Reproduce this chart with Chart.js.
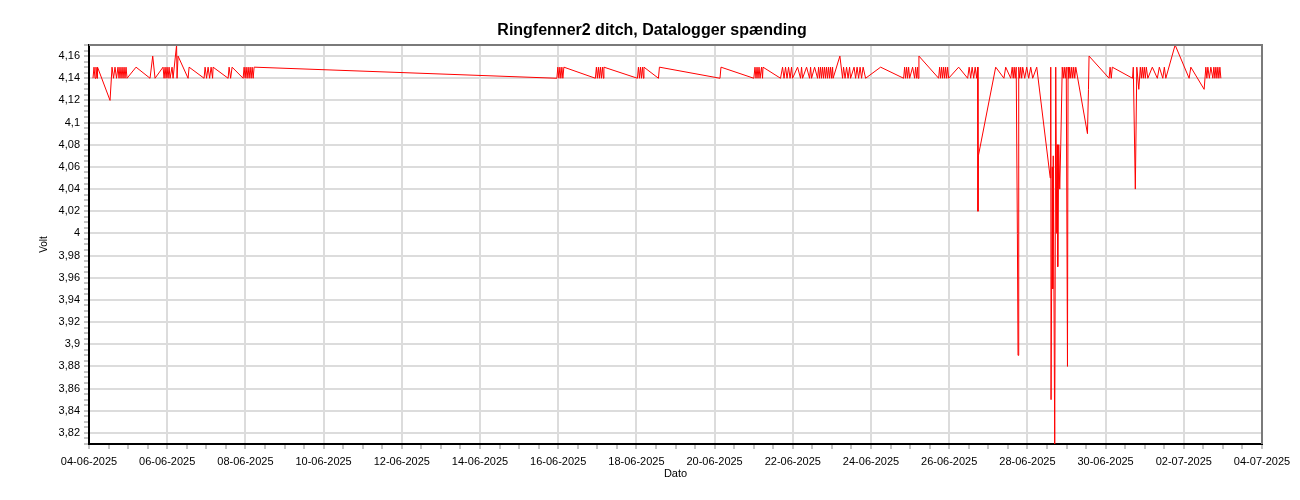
<!DOCTYPE html>
<html><head><meta charset="utf-8">
<script src="https://cdn.jsdelivr.net/npm/chart.js@4.4.1/dist/chart.umd.min.js"></script>
<style>html,body{margin:0;padding:0;background:#fff;} #wrap{width:1300px;height:500px;}</style>
</head><body><div id="wrap"><canvas id="c" width="1300" height="500"></canvas></div>
<script>
const chartTitle = 'Ringfenner2 ditch, Datalogger spænding';
const xTitle = 'Dato';
const yTitle = 'Volt';
const seriesName = 'Datalogger spænding';
const startDate = [2025, 5, 4]; // 04-06-2025 (day offset 0)

// days since 04-06-2025 00:00
const dayOffset = [
  0.102,0.128,0.154,0.179,0.205,0.218,0.538,0.589,0.627,0.665,0.704,0.742,0.768,0.793,0.819,0.845,0.870,0.896,0.921,0.947,0.973,
  1.203,1.561,1.630,1.689,1.894,1.920,1.945,1.971,1.996,2.022,2.048,2.073,2.124,2.150,2.240,2.252,2.278,2.534,2.560,
  2.943,2.969,3.007,3.046,3.084,3.123,3.161,3.174,3.558,3.583,3.622,3.660,3.942,3.967,3.993,4.018,4.044,4.070,4.095,4.121,4.147,4.172,4.198,4.223,
  11.966,11.991,12.017,12.043,12.068,12.094,12.119,12.145,12.951,12.977,13.002,13.028,13.053,13.079,13.105,13.130,13.156,13.169,
  14.026,14.052,14.077,14.103,14.129,14.154,14.180,14.193,14.564,14.589,16.138,16.163,
  17.003,17.033,17.059,17.085,17.110,17.136,17.162,17.200,17.226,17.238,17.686,17.738,17.776,17.814,17.853,17.891,17.930,17.968,17.994,
  18.122,18.198,18.224,18.250,18.352,18.429,18.455,18.480,18.557,18.634,18.660,18.685,18.711,18.736,18.762,18.787,18.813,18.839,18.864,18.890,18.916,18.941,18.967,18.992,19.018,19.031,
  19.204,19.273,19.298,19.337,19.375,19.414,19.452,19.478,19.567,19.606,19.644,19.683,19.721,19.759,19.798,19.862,20.246,
  20.834,20.860,20.885,20.911,20.936,20.962,20.988,21.064,21.116,21.141,21.167,21.192,21.205,21.226,
  21.730,21.755,21.781,21.807,21.832,21.858,21.884,21.909,21.935,21.960,21.986,22.242,
  22.472,22.510,22.549,22.587,22.626,22.664,22.702,22.728,22.736,22.746,23.189,
  23.400,23.445,23.573,23.611,23.637,23.662,23.688,23.714,23.744,23.760,23.778,23.803,23.829,23.854,23.880,23.931,23.982,24.033,24.085,24.136,24.239,
  24.584,24.597,24.605,24.635,24.648,24.661,24.699,24.725,24.750,24.763,24.776,24.802,24.827,24.853,24.891,24.917,24.942,24.968,24.994,25.025,25.040,
  25.058,25.083,25.109,25.134,25.160,25.185,25.211,25.237,25.536,25.562,25.577,
  26.089,26.115,26.145,26.171,26.688,26.708,26.760,26.798,26.849,26.888,26.913,26.939,26.964,26.990,27.016,27.041,27.080,
  27.195,27.323,27.374,27.463,27.502,27.540,27.778,28.136,28.180,28.520,28.564,
  28.590,28.615,28.654,28.692,28.743,28.769,28.795,28.820,28.846,28.871,28.897,28.923,28.948
];
const volts = [
  4.14,4.15,4.14,4.15,4.14,4.15,4.12,4.15,4.14,4.15,4.14,4.15,4.14,4.15,4.14,4.15,4.14,4.15,4.14,4.15,4.14,
  4.15,4.14,4.16,4.14,4.15,4.14,4.15,4.14,4.15,4.14,4.15,4.14,4.15,4.14,4.17,4.14,4.16,4.14,4.15,
  4.14,4.15,4.14,4.15,4.14,4.15,4.14,4.15,4.14,4.15,4.14,4.15,4.14,4.15,4.14,4.15,4.14,4.15,4.14,4.15,4.14,4.15,4.14,4.15,
  4.14,4.15,4.14,4.15,4.14,4.15,4.14,4.15,4.14,4.15,4.14,4.15,4.14,4.15,4.14,4.15,4.14,4.15,
  4.14,4.15,4.14,4.15,4.14,4.15,4.14,4.15,4.14,4.15,4.14,4.15,
  4.14,4.15,4.14,4.15,4.14,4.15,4.14,4.15,4.14,4.15,4.14,4.15,4.14,4.15,4.14,4.15,4.14,4.15,4.14,
  4.15,4.14,4.15,4.14,4.15,4.14,4.15,4.14,4.15,4.14,4.15,4.14,4.15,4.14,4.15,4.14,4.15,4.14,4.15,4.14,4.15,4.14,4.15,4.14,4.15,4.14,
  4.16,4.14,4.15,4.14,4.15,4.14,4.15,4.14,4.15,4.14,4.15,4.14,4.15,4.14,4.15,4.14,4.15,
  4.14,4.15,4.14,4.15,4.14,4.15,4.14,4.15,4.14,4.15,4.14,4.15,4.14,4.16,
  4.14,4.15,4.14,4.15,4.14,4.15,4.14,4.15,4.14,4.15,4.14,4.15,
  4.14,4.15,4.14,4.15,4.14,4.15,4.14,4.15,4.02,4.07,4.15,
  4.14,4.15,4.14,4.15,4.14,4.15,4.14,4.15,4.00,3.89,4.15,4.14,4.15,4.14,4.15,4.14,4.15,4.14,4.15,4.14,4.15,
  4.05,4.15,3.85,4.06,3.95,4.07,3.81,4.15,4.00,4.08,3.97,4.08,4.04,4.08,4.15,4.14,4.15,4.14,4.15,3.88,4.15,
  4.14,4.15,4.14,4.15,4.14,4.15,4.14,4.15,4.09,4.13,4.16,
  4.14,4.15,4.14,4.15,4.14,4.15,4.04,4.15,4.13,4.15,4.14,4.15,4.14,4.15,4.14,4.15,4.14,
  4.15,4.14,4.15,4.14,4.15,4.14,4.17,4.14,4.15,4.13,4.15,
  4.14,4.15,4.14,4.15,4.14,4.15,4.14,4.15,4.14,4.15,4.14,4.15,4.14
];

const xMin = 0, xMax = 30, xMajorStep = 2, xMinorStep = 0.5;
const yMin = 3.81, yMax = 4.17, yMajorStep = 0.02, yMinorStep = 0.005;

const FONT = '"Liberation Sans", Arial, sans-serif';
const points = dayOffset.map((d, i) => ({x: d, y: volts[i]}));

function isMajor(v, step) { const r = v / step; return Math.abs(r - Math.round(r)) < 1e-6; }
function pad2(n) { return (n < 10 ? '0' : '') + n; }
function dateLabel(v) {
  const d = new Date(startDate[0], startDate[1], startDate[2] + Math.round(v));
  return pad2(d.getDate()) + '-' + pad2(d.getMonth() + 1) + '-' + d.getFullYear();
}
function voltLabel(v) { return String(Number(v.toFixed(2))).replace('.', ','); }

const frame = {
  id: 'frame',
  afterDraw(chart) {
    const {ctx, chartArea: a} = chart;
    ctx.save();
    ctx.strokeStyle = '#7a7a7a';
    ctx.lineWidth = 2;
    ctx.beginPath();
    ctx.moveTo(a.left, a.top); ctx.lineTo(a.right, a.top); ctx.lineTo(a.right, a.bottom);
    ctx.stroke();
    ctx.restore();
  }
};

new Chart(document.getElementById('c'), {
  type: 'line',
  data: { datasets: [{ label: seriesName, data: points, borderColor: '#ff0000', borderWidth: 1,
    pointRadius: 0, tension: 0, fill: false, yAxisID: 'y' }] },
  options: {
    responsive: false, animation: false, devicePixelRatio: 1,
    layout: { padding: { left: 4, right: 0, top: 0, bottom: 0 } },
    plugins: {
      legend: { display: false }, tooltip: { enabled: false },
      title: { display: true, text: chartTitle, color: '#000',
        font: { family: FONT, size: 16, weight: 'bold' }, padding: { top: 21, bottom: 4.8 } }
    },
    scales: {
      x: {
        type: 'linear', min: xMin, max: xMax,
        afterFit(s) { s.height = 56; },
        afterBuildTicks(s) { const t = []; for (let v = xMin; v <= xMax + 1e-9; v += xMinorStep) t.push({value: +v.toFixed(3)}); s.ticks = t; },
        ticks: { autoSkip: false, maxRotation: 0, padding: 6, color: '#000',
          font: { family: FONT, size: 11 },
          callback: (v) => isMajor(v, xMajorStep) ? dateLabel(v) : '' },
        grid: { drawOnChartArea: true, tickLength: 5, lineWidth: 2,
          color: (c) => (c.tick && isMajor(c.tick.value, xMajorStep)) ? '#dcdcdc' : 'rgba(0,0,0,0)',
          tickColor: '#8a8a8a', tickWidth: 1 },
        border: { color: '#000', width: 2 },
        title: { display: true, text: xTitle, color: '#000', font: { family: FONT, size: 11 }, padding: { top: 0, bottom: 19 } }
      },
      y: {
        type: 'linear', min: yMin, max: yMax,
        afterFit(s) { s.width = 85; },
        afterBuildTicks(s) { const t = []; for (let k = Math.round(yMin / yMinorStep); k <= Math.round(yMax / yMinorStep); k++) t.push({value: +(k * yMinorStep).toFixed(3)}); s.ticks = t; },
        ticks: { autoSkip: false, padding: 4, color: '#000',
          font: { family: FONT, size: 11 },
          callback: (v) => isMajor(v, yMajorStep) ? voltLabel(v) : '' },
        grid: { tickLength: 5, lineWidth: 2,
          color: (c) => (c.tick && isMajor(c.tick.value, yMajorStep)) ? '#dcdcdc' : 'rgba(0,0,0,0)',
          tickColor: '#8a8a8a', tickWidth: 1 },
        border: { color: '#000', width: 2 },
        title: { display: true, text: yTitle, color: '#000', font: { family: FONT, size: 10 }, padding: { top: 34, bottom: 0 } }
      },
      yRight: {
        type: 'linear', position: 'right', min: yMin, max: yMax,
        afterFit(s) { s.width = 38; },
        ticks: { display: false }, grid: { display: false, drawTicks: false }, border: { display: false }
      }
    }
  },
  plugins: [frame]
});
</script>
</body></html>
